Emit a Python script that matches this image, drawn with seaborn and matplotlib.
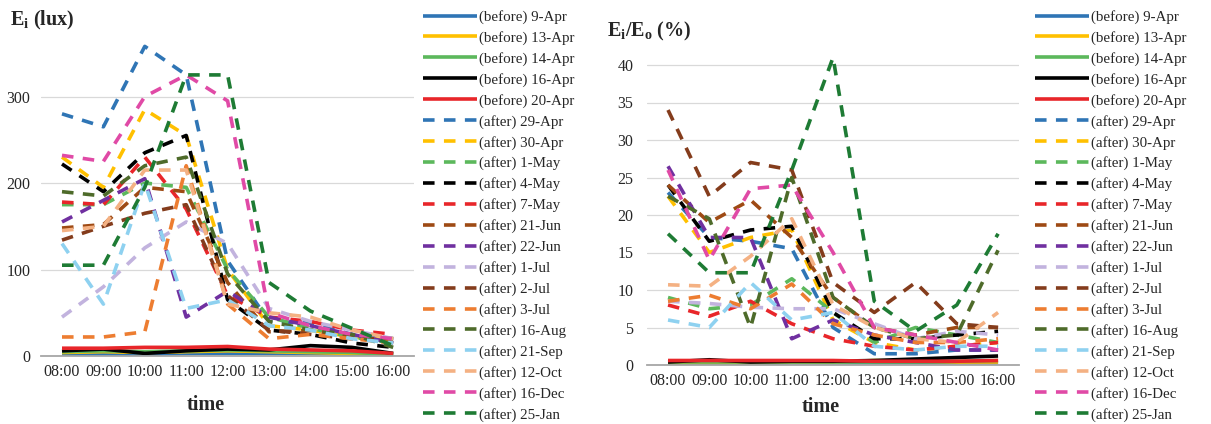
import matplotlib
matplotlib.use("Agg")
import matplotlib.pyplot as plt
import seaborn as sns
import pandas as pd

# time axis
times = ["08:00", "09:00", "10:00", "11:00", "12:00", "13:00", "14:00", "15:00", "16:00"]

labels = ["(before) 9-Apr", "(before) 13-Apr", "(before) 14-Apr", "(before) 16-Apr", "(before) 20-Apr",
          "(after) 29-Apr", "(after) 30-Apr", "(after) 1-May", "(after) 4-May", "(after) 7-May",
          "(after) 21-Jun", "(after) 22-Jun", "(after) 1-Jul", "(after) 2-Jul", "(after) 3-Jul",
          "(after) 16-Aug", "(after) 21-Sep", "(after) 12-Oct", "(after) 16-Dec", "(after) 25-Jan"]

colors = ["#2F75B5", "#FFC000", "#5CB85C", "#000000", "#E8262A",
          "#2F75B5", "#FFC000", "#5CB85C", "#000000", "#E8262A",
          "#9E4A14", "#7030A0", "#C2B3DE", "#843C1C", "#ED7D31",
          "#4E6B2A", "#8ED1F0", "#F4B183", "#E04AA6", "#1E7B34"]

# Ei (lux)
lux_b9apr = [2, 2, 2, 3, 3, 3, 3, 2, 1]
lux_b13apr = [4, 5, 4, 5, 6, 5, 4, 3, 2]
lux_b14apr = [5, 6, 5, 6, 7, 6, 5, 4, 2]
lux_b16apr = [6, 8, 3, 6, 8, 7, 12, 10, 3]
lux_b20apr = [9, 9, 10, 10, 11, 8, 7, 6, 3]
lux_29apr = [280, 265, 358, 325, 110, 40, 38, 25, 20]
lux_30apr = [230, 195, 285, 255, 100, 35, 30, 22, 18]
lux_1may = [175, 175, 200, 195, 100, 45, 32, 22, 15]
lux_4may = [222, 190, 235, 255, 65, 30, 25, 15, 10]
lux_7may = [178, 175, 230, 170, 70, 45, 40, 30, 25]
lux_21jun = [148, 152, 195, 190, 85, 28, 30, 22, 15]
lux_22jun = [155, 180, 205, 45, 75, 45, 35, 25, 15]
lux_1jul = [45, 80, 125, 155, 130, 55, 40, 30, 20]
lux_2jul = [134, 150, 165, 175, 70, 30, 25, 20, 20]
lux_3jul = [22, 22, 28, 220, 60, 20, 25, 20, 15]
lux_16aug = [190, 185, 220, 230, 95, 40, 30, 25, 10]
lux_21sep = [130, 60, 200, 55, 65, 35, 30, 20, 15]
lux_12oct = [145, 150, 215, 215, 60, 50, 45, 30, 20]
lux_16dec = [232, 225, 300, 325, 295, 50, 35, 25, 20]
lux_25jan = [105, 105, 195, 325, 325, 85, 52, 32, 12]

# Ei/Eo (%)
pct_b9apr = [0.2, 0.2, 0.2, 0.3, 0.3, 0.3, 0.3, 0.3, 0.3]
pct_b13apr = [0.3, 0.3, 0.3, 0.4, 0.4, 0.6, 0.5, 0.4, 0.4]
pct_b14apr = [0.4, 0.4, 0.4, 0.4, 0.4, 0.4, 0.4, 0.5, 0.6]
pct_b16apr = [0.4, 0.7, 0.4, 0.5, 0.5, 0.6, 0.8, 1.0, 1.2]
pct_b20apr = [0.6, 0.6, 0.6, 0.6, 0.6, 0.5, 0.5, 0.5, 0.6]
pct_29apr = [23, 17, 16.5, 15.5, 5, 1.5, 1.5, 2, 2]
pct_30apr = [22.5, 15, 17, 18, 6, 3, 2, 2.5, 3]
pct_1may = [9, 7.5, 8, 11.5, 7, 3, 5, 4, 3]
pct_4may = [24, 16.5, 18, 18.5, 7, 3.5, 3.5, 4, 4.5]
pct_7may = [8, 6.5, 8.5, 5.5, 3.5, 2.5, 2, 2.5, 3]
pct_21jun = [24, 19, 22, 17, 9, 5, 4, 5, 5]
pct_22jun = [26.5, 17, 17, 3.5, 6, 4, 3, 2, 2]
pct_1jul = [8.5, 8.2, 7.7, 7.5, 7.5, 5.5, 3.5, 4.5, 4]
pct_2jul = [34, 22.5, 27, 26, 11, 7, 11, 5.5, 5]
pct_3jul = [8.5, 9.3, 7.5, 10.8, 5.5, 4, 3, 3, 3.5]
pct_16aug = [22.5, 19.5, 5, 25, 9, 5, 3.5, 4, 15.3]
pct_21sep = [6, 5, 11, 6, 7, 2.5, 2, 2.5, 2.5]
pct_12oct = [10.7, 10.5, 14.5, 19.5, 8, 5, 3.5, 3, 7]
pct_16dec = [26, 14, 23.5, 24, 15, 5, 4, 3, 2]
pct_25jan = [17.5, 12.3, 12.3, 26, 41, 8.5, 4.5, 8, 17.5]

lux_all = [lux_b9apr, lux_b13apr, lux_b14apr, lux_b16apr, lux_b20apr, lux_29apr, lux_30apr,
           lux_1may, lux_4may, lux_7may, lux_21jun, lux_22jun, lux_1jul, lux_2jul, lux_3jul,
           lux_16aug, lux_21sep, lux_12oct, lux_16dec, lux_25jan]
pct_all = [pct_b9apr, pct_b13apr, pct_b14apr, pct_b16apr, pct_b20apr, pct_29apr, pct_30apr,
           pct_1may, pct_4may, pct_7may, pct_21jun, pct_22jun, pct_1jul, pct_2jul, pct_3jul,
           pct_16aug, pct_21sep, pct_12oct, pct_16dec, pct_25jan]

sns.set_style("white")
plt.rcParams["font.family"] = ["Liberation Serif", "DejaVu Serif"]
plt.rcParams["mathtext.default"] = "regular"

fig = plt.figure(figsize=(12.11, 4.24), dpi=100)
W, H = 1211, 424
ax1 = fig.add_axes([41.3 / W, (H - 356) / H, 372.6 / W, (356 - 36) / H])
ax2 = fig.add_axes([647.4 / W, (H - 365) / H, 371.3 / W, (365 - 50) / H])


def draw(ax, series, ymax, yticks, ypad):
    for lab, col, vals in zip(labels, colors, series):
        df = pd.DataFrame({"time": times, "v": vals})
        sns.lineplot(data=df, x="time", y="v", ax=ax, color=col, linewidth=2.6,
                     label=lab, legend=False, sort=False)
        ln = ax.lines[-1]
        if lab.startswith("(after)"):
            ln.set_dashes((3.2, 2.6))
        ln.set_solid_capstyle("butt")
        ln.set_dash_capstyle("butt")
    ax.set_xlim(-0.5, 8.5)
    ax.set_ylim(0, ymax)
    ax.set_yticks(yticks)
    ax.grid(axis="y", color="#D9D9D9", linewidth=0.9)
    ax.set_axisbelow(True)
    for s in ["top", "right", "left"]:
        ax.spines[s].set_visible(False)
    ax.spines["bottom"].set_color("#A6A6A6")
    ax.spines["bottom"].set_linewidth(1.3)
    ax.tick_params(axis="both", length=0, labelsize=11.5, pad=6)
    ax.tick_params(axis="y", pad=ypad)
    ax.set_xlabel("")
    ax.set_ylabel("")


draw(ax1, lux_all, 370, [0, 100, 200, 300], 8)
draw(ax2, pct_all, 42, [0, 5, 10, 15, 20, 25, 30, 35, 40], 10)

fig.text(206 / W, 1 - 405 / H, "time", fontsize=14.5, fontweight="bold", ha="center", va="center")
fig.text(821 / W, 1 - 407 / H, "time", fontsize=14.5, fontweight="bold", ha="center", va="center")
fig.text(10 / W, 1 - 20 / H, "E$_{i}$ (lux)", fontsize=14.5, fontweight="bold", va="center")
fig.text(607 / W, 1 - 31 / H, "E$_{i}$/E$_{o}$ (%)", fontsize=14.5, fontweight="bold", va="center")

for ax, xl in [(ax1, 423), (ax2, 1035)]:
    h, l = ax.get_legend_handles_labels()
    fig.legend(h, l, loc="upper left", bbox_to_anchor=(xl / W, 1 - 10 / H), frameon=False,
               fontsize=10.8, handlelength=3.6, handletextpad=0.15, labelspacing=0.465,
               borderpad=0, borderaxespad=0)

fig.savefig("out.png", dpi=100)
